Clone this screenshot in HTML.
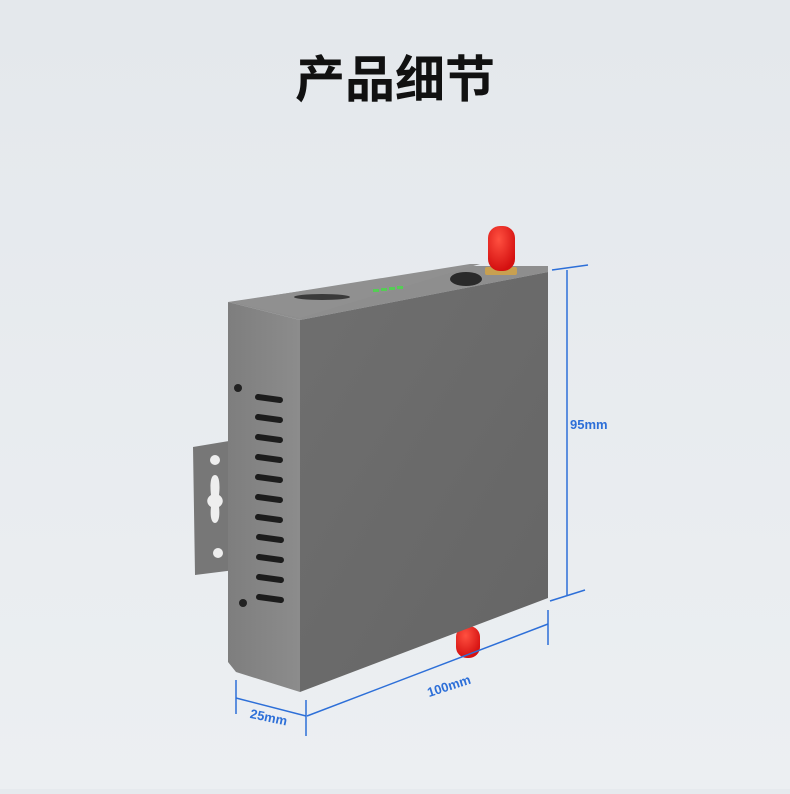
<!DOCTYPE html>
<html><head><meta charset="utf-8"><style>
html,body{margin:0;padding:0;}
body{width:790px;height:789px;overflow:hidden;background:#e6eaee;}
</style></head><body>
<svg width="790" height="789" viewBox="0 0 790 789" xmlns="http://www.w3.org/2000/svg">
<defs>
<linearGradient id="bg" x1="0" y1="0" x2="0" y2="1"><stop offset="0" stop-color="#e4e8ec"/><stop offset="1" stop-color="#eceff2"/></linearGradient>
<linearGradient id="side" x1="0" y1="0" x2="1" y2="0"><stop offset="0" stop-color="#7e7e7e"/><stop offset="1" stop-color="#8c8c8c"/></linearGradient>
<linearGradient id="front" x1="0" y1="0" x2="1" y2="1"><stop offset="0" stop-color="#6f6f6f"/><stop offset="1" stop-color="#656565"/></linearGradient>
<radialGradient id="red" cx="0.4" cy="0.3" r="0.7"><stop offset="0" stop-color="#ff5040"/><stop offset="1" stop-color="#d41010"/></radialGradient>
</defs>
<rect width="790" height="789" fill="url(#bg)"/>
<text x="395" y="97" text-anchor="middle" font-family="'Liberation Sans','Noto Sans CJK SC',sans-serif" font-size="50" font-weight="bold" fill="#111">产品细节</text>
<!-- bottom antenna -->
<rect x="456" y="626" width="24" height="32" rx="11" fill="url(#red)"/>
<!-- bracket -->
<polygon points="193,447 235,440 235,570 195,575" fill="#777"/>
<circle cx="215" cy="460" r="5" fill="#eee"/>
<path d="M215,475 c5,0 5,12 4,20 c5,3 5,9 0,12 c1,8 0,16 -4,16 c-4,0 -5,-8 -4,-16 c-5,-3 -5,-9 0,-12 c-1,-8 -1,-20 4,-20z" fill="#eee"/>
<circle cx="218" cy="553" r="5" fill="#eee"/>
<!-- top face -->
<polygon points="228,302 470,266 548,266 548,272 300,320" fill="#8e8e8e"/>
<polygon points="232,302 470,264 480,264 300,318" fill="#909090"/>
<!-- side face -->
<polygon points="228,302 300,320 300,692 236,672 228,662" fill="url(#side)"/>
<!-- front face -->
<polygon points="300,320 548,272 548,598 300,692" fill="url(#front)"/>
<!-- top ports -->
<ellipse cx="322" cy="297" rx="28" ry="3" fill="#3a3a3a"/>
<g fill="#5c5"><rect x="373" y="289" width="6" height="3"/><rect x="381" y="288" width="6" height="3"/><rect x="389" y="287" width="6" height="3"/><rect x="397" y="286" width="6" height="3"/></g>
<ellipse cx="466" cy="279" rx="16" ry="7" fill="#2a2a2a"/>
<!-- top antenna -->
<rect x="485" y="267" width="32" height="8" rx="2" fill="#c8a050"/>
<rect x="488" y="226" width="27" height="45" rx="12" fill="url(#red)"/>
<!-- side holes -->
<circle cx="238" cy="388" r="4" fill="#222"/>
<circle cx="243" cy="603" r="4" fill="#222"/>
<g stroke="#1c1c1c" stroke-width="6" stroke-linecap="round">
<line x1="258" y1="397" x2="280" y2="400"/>
<line x1="258" y1="417" x2="280" y2="420"/>
<line x1="258" y1="437" x2="280" y2="440"/>
<line x1="258" y1="457" x2="280" y2="460"/>
<line x1="258" y1="477" x2="280" y2="480"/>
<line x1="258" y1="497" x2="280" y2="500"/>
<line x1="258" y1="517" x2="280" y2="520"/>
<line x1="259" y1="537" x2="281" y2="540"/>
<line x1="259" y1="557" x2="281" y2="560"/>
<line x1="259" y1="577" x2="281" y2="580"/>
<line x1="259" y1="597" x2="281" y2="600"/>
</g>
<!-- dimensions -->
<g stroke="#2d6fd8" stroke-width="1.5" fill="none">
<line x1="552" y1="270" x2="588" y2="265"/>
<line x1="567" y1="270" x2="567" y2="595"/>
<line x1="550" y1="601" x2="585" y2="590"/>
<line x1="548" y1="610" x2="548" y2="645"/>
<line x1="307" y1="716" x2="548" y2="624"/>
<line x1="306" y1="700" x2="306" y2="736"/>
<line x1="236" y1="680" x2="236" y2="714"/>
<line x1="236" y1="698" x2="306" y2="716"/>
</g>
<g font-family="'Liberation Sans',sans-serif" font-weight="bold" font-size="13" fill="#2d6fd8">
<text x="570" y="429">95mm</text>
<text x="426" y="690" transform="rotate(-18 450 684)">100mm</text>
<text x="250" y="722" transform="rotate(12 270 717)">25mm</text>
</g>
</svg>
</body></html>
